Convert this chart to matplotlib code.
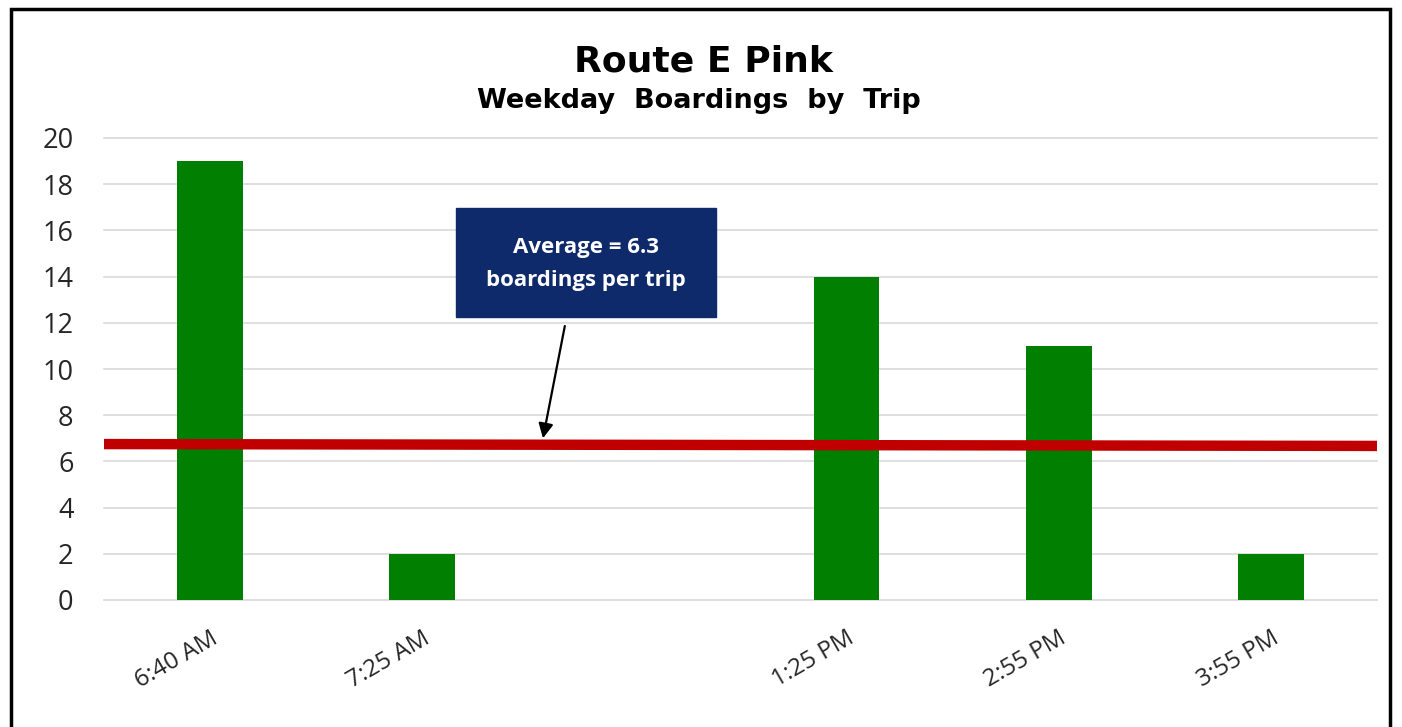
import matplotlib
matplotlib.use("Agg")
import matplotlib.pyplot as plt
from matplotlib.patches import Rectangle

# ---- data ----
categories = ["6:40 AM", "7:25 AM", "", "1:25 PM", "2:55 PM", "3:55 PM"]
boardings = [19, 2, 0, 14, 11, 2]
y_ticks = [0, 2, 4, 6, 8, 10, 12, 14, 16, 18, 20]
avg_line_x = [-0.5, 5.5]
avg_line_y = [6.75, 6.67]
avg_text = "Average = 6.3\nboardings per trip"
title = "Route E Pink"
subtitle = "Weekday  Boardings  by  Trip"

W, H = 1402, 727
fig = plt.figure(figsize=(W / 100, H / 100), dpi=100)
fig.patch.set_facecolor("white")

ax = fig.add_axes([104 / W, 1 - 600 / H, (1377 - 104) / W, (600 - 138) / H])
x = list(range(len(categories)))
ax.bar(x, boardings, width=0.31, color="#007F00", zorder=3)
ax.set_xlim(-0.5, len(categories) - 0.5)
ax.set_ylim(0, 20)
ax.set_yticks(y_ticks)
ax.set_yticklabels([str(v) for v in y_ticks], fontfamily="Open Sans",
                   fontsize=19.5, color="#262626")
ax.set_xticks(x)
ax.set_xticklabels(categories, rotation=30, ha="right", rotation_mode="anchor",
                   fontfamily="Open Sans", fontsize=17.5, color="#262626")
ax.tick_params(axis="both", length=0)
ax.tick_params(axis="y", pad=22)
ax.tick_params(axis="x", pad=19)
for s in ax.spines.values():
    s.set_visible(False)
ax.grid(axis="y", color="#D9D9D9", linewidth=1.2, zorder=0)
ax.set_axisbelow(True)
for gl in ax.get_ygridlines():
    gl.set_clip_on(False)

# average line
ax.plot(avg_line_x, avg_line_y, color="#C00000", linewidth=7.5,
        solid_capstyle="butt", zorder=4, clip_on=False)

# annotation box
bx0, bx1 = 1.159, 2.384
by0, by1 = 12.25, 16.97
ax.add_patch(Rectangle((bx0, by0), bx1 - bx0, by1 - by0, facecolor="#0E2A6B",
                       edgecolor="#0E2A6B", zorder=5))
ax.text((bx0 + bx1) / 2, (by0 + by1) / 2 - 0.05, avg_text, ha="center", va="center",
        color="white", fontsize=16, fontweight="bold", fontfamily="Open Sans",
        linespacing=1.75, zorder=6)
ax.annotate("", xy=(1.569, 7.0), xytext=(1.672, 11.86),
            arrowprops=dict(arrowstyle="-|>", color="black", lw=1.6,
                            mutation_scale=22, shrinkA=0, shrinkB=0), zorder=6)

# titles
fig.text(703 / W, 1 - 72 / H, title, ha="center", va="baseline",
         fontfamily="DejaVu Sans", fontweight="bold", fontsize=26)
fig.text(699 / W, 1 - 108 / H, subtitle, ha="center", va="baseline",
         fontfamily="DejaVu Sans", fontweight="bold", fontsize=19.5)

# outer frame
fig.add_artist(Rectangle((11 / W, -0.05), (1390 - 11) / W, 1.05 - 9 / H,
                         transform=fig.transFigure, fill=False,
                         edgecolor="black", linewidth=2.5))

fig.savefig("out.png", dpi=100)
